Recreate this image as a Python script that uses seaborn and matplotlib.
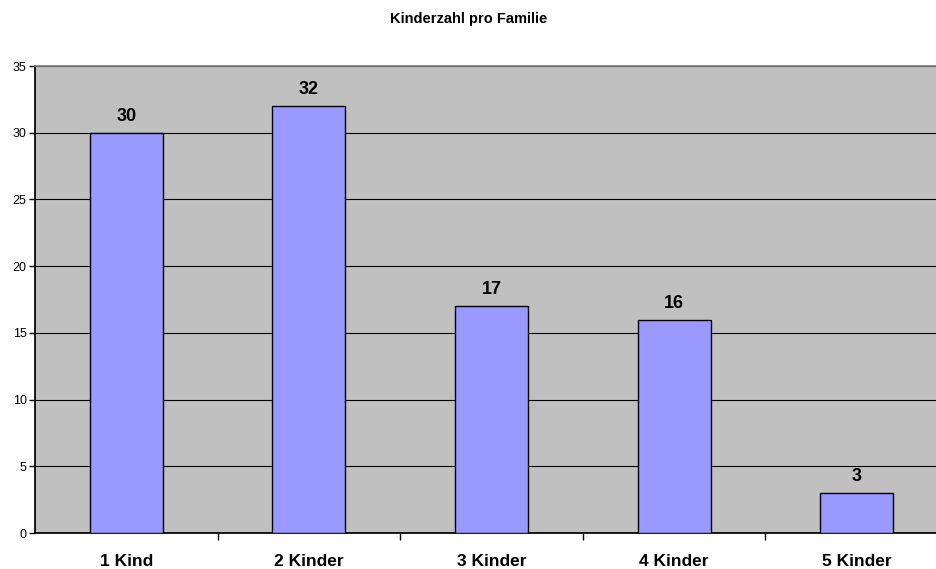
import pandas as pd
import matplotlib
matplotlib.use('Agg')
import matplotlib.pyplot as plt
import seaborn as sns

# Chart data
categories = ['1 Kind', '2 Kinder', '3 Kinder', '4 Kinder', '5 Kinder']
counts = [30, 32, 17, 16, 3]
y_ticks = [0, 5, 10, 15, 20, 25, 30, 35]

df = pd.DataFrame({'Kinderzahl': categories, 'Anzahl': counts})

sns.set_theme(style='white')
plt.rcParams['font.family'] = ['Liberation Sans', 'DejaVu Sans']
plt.rcParams['text.color'] = 'black'
plt.rcParams['xtick.color'] = 'black'
plt.rcParams['ytick.color'] = 'black'

fig = plt.figure(figsize=(9.37, 5.69), dpi=100)
# plot area runs slightly past the right edge, as in the original
ax = fig.add_axes([35 / 937, 36 / 569, 913 / 937, 467 / 569])
ax.set_facecolor('#C0C0C0')

sns.barplot(data=df, x='Kinderzahl', y='Anzahl', ax=ax, color='#9999FF',
            saturation=1, width=0.4, edgecolor='black', linewidth=1, zorder=3)

# value labels above bars
for i, v in enumerate(counts):
    ax.text(i, v + 0.9, str(v), ha='center', va='baseline',
            fontsize=13, fontweight='bold', color='black')

ax.set_ylim(0, 35)
ax.set_xlim(-0.5, len(categories) - 0.5)
ax.set_yticks(y_ticks)
ax.yaxis.grid(True, color='black', linewidth=0.8, zorder=0)
ax.set_axisbelow(True)

ax.set_xlabel('')
ax.set_ylabel('')
ax.tick_params(axis='y', labelsize=9, length=4, width=1, direction='out',
               left=True, pad=2, colors='black')
ax.tick_params(axis='x', labelsize=12.5, length=0, pad=15, labelcolor='black')
for lbl in ax.get_xticklabels():
    lbl.set_fontweight('bold')

# category boundary ticks on x axis
ax.set_xticks([i + 0.5 for i in range(len(categories) - 1)], minor=True)
ax.tick_params(axis='x', which='minor', length=5, width=1, direction='out',
               bottom=True, color='black')

ax.spines['left'].set_color('black')
ax.spines['bottom'].set_color('black')
ax.spines['top'].set_color('#808080')
ax.spines['right'].set_visible(False)

fig.text(0.5, 1 - 19 / 569, 'Kinderzahl pro Familie', ha='center', va='center',
         fontsize=10.5, fontweight='bold', color='black')

plt.savefig('out.png', dpi=100)
